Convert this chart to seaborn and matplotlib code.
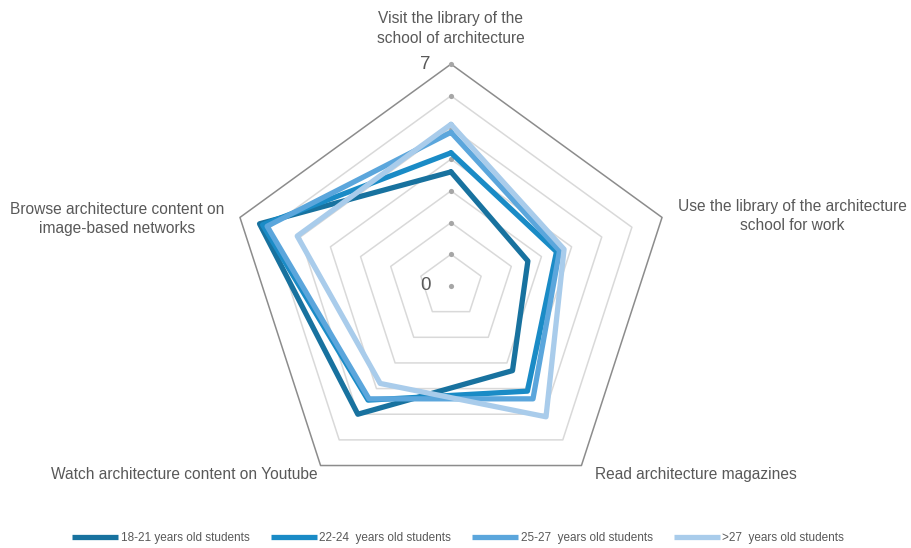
import numpy as np
import pandas as pd
import seaborn as sns
import matplotlib.pyplot as plt

# axes listed clockwise, starting at the top
categories = [
    "Visit the library of the\nschool of architecture",
    "Use the library of the architecture\nschool for work",
    "Read architecture magazines",
    "Watch architecture content on Youtube",
    "Browse architecture content on\nimage-based networks",
]
series_names = [
    "18-21 years old students",
    "22-24  years old students",
    "25-27  years old students",
    ">27  years old students",
]
s_18_21 = [3.6, 2.55, 3.3, 5.0, 6.35]
s_22_24 = [4.2, 3.5, 4.1, 4.45, 6.25]
s_25_27 = [4.85, 3.6, 4.4, 4.4, 6.1]
s_27_up = [5.1, 3.75, 5.1, 3.8, 5.1]
r_max = 7
colors = ["#18729f", "#1a8bc6", "#5ba6dc", "#a9cceb"]

n = len(categories)
angles = np.pi / 2 - np.arange(n) * 2 * np.pi / n


def to_xy(values):
    v = np.append(values, values[0])
    a = np.append(angles, angles[0])
    return v * np.cos(a), v * np.sin(a)


rows = []
for name, vals in zip(series_names, [s_18_21, s_22_24, s_25_27, s_27_up]):
    xs, ys = to_xy(vals)
    for i, (x, y) in enumerate(zip(xs, ys)):
        rows.append({"series": name, "order": i, "x": x, "y": y})
df = pd.DataFrame(rows)

sns.set_style("white")
plt.rcParams['font.family'] = ['Liberation Sans', 'DejaVu Sans']

fig = plt.figure(figsize=(9.11, 5.48), dpi=100)
ax = fig.add_axes([0, 0, 1, 1])
unit = 31.7
ax.set_xlim(-451 / unit, (911 - 451) / unit)
ax.set_ylim(-(548 - 286) / unit, 286 / unit)
ax.axis("off")

# pentagon grid
for r in range(1, r_max + 1):
    gx, gy = to_xy([r] * n)
    if r == r_max:
        ax.plot(gx, gy, color="#8c8c8c", lw=1.1, zorder=1)
    else:
        ax.plot(gx, gy, color="#d9d9d9", lw=1.1, zorder=1)

# dots on the top axis
ax.scatter(np.zeros(r_max + 1), np.arange(r_max + 1), s=14, color="#a6a6a6",
           zorder=2, linewidths=0)
ax.text(-0.8, r_max, "7", ha="center", va="center", fontsize=13.5, color="#595959")
ax.text(-0.8, 0, "0", ha="center", va="center", fontsize=13.5, color="#595959")

sns.lineplot(data=df, x="x", y="y", hue="series", sort=False, units="series",
             estimator=None, palette=colors, lw=3.8, ax=ax, zorder=3,
             legend=True)

# category labels
label_pos = [(0, 8.12, "center"), (10.76, 2.2, "center"), (7.73, -5.96, "center"),
             (-8.42, -5.96, "center"), (-10.54, 2.12, "center")]
for text, (lx, ly, ha) in zip(categories, label_pos):
    ax.text(lx, ly, text, ha=ha, va="center", fontsize=11.2, color="#595959",
            linespacing=1.35)

handles, labels = ax.get_legend_handles_labels()
for h in handles:
    h.set_linewidth(3.8)
    h.set_solid_capstyle("butt")
ax.legend(handles, labels, loc="center", bbox_to_anchor=(0.503, 0.018), ncol=4,
          frameon=False, handlelength=3.9, columnspacing=1.8, handletextpad=0.2,
          prop={"family": ["Liberation Sans Narrow", "Liberation Sans"], "size": 8.5},
          labelcolor="#595959")

fig.savefig("out.png", dpi=100)
